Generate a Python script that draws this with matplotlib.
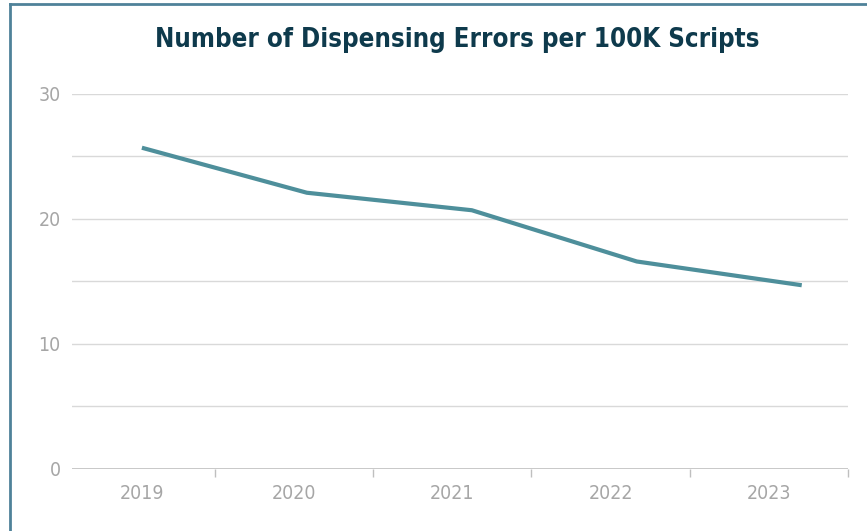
import matplotlib
matplotlib.use("Agg")
import matplotlib.pyplot as plt
from matplotlib.lines import Line2D

years = ["2019", "2020", "2021", "2022", "2023"]
errors = [25.7, 22.1, 20.7, 16.6, 14.7]
y_ticks = [0, 10, 20, 30]
grid_levels = [0, 5, 10, 15, 20, 25, 30]
label_pos = [0.04, 1, 2, 3, 4]

fig = plt.figure(figsize=(8.67, 5.31), dpi=100)
ax = fig.add_axes([0.083, 0.1168, 0.895, 0.7062])

# Category axis
ax.set_xlim(-0.403, 4.5)
ax.set_ylim(0, 30)
for lvl in grid_levels[1:]:
    ax.axhline(lvl, color="#d9d9d9", lw=1.0, zorder=1)
ax.axhline(0, color="#bfbfbf", lw=1.2, zorder=2)
for s in ax.spines.values():
    s.set_visible(False)
ax.set_xticks([i + 0.5 for i in range(len(years))])
ax.set_xticklabels([])
ax.tick_params(axis="x", length=6, color="#bfbfbf", width=1.0)
ax.set_xticks(label_pos, minor=True)
ax.set_xticklabels(years, minor=True)
ax.tick_params(axis="x", which="minor", length=0, pad=11, labelsize=14,
               labelcolor="#a6a6a6")
ax.set_yticks(y_ticks)
ax.set_yticklabels([str(v) for v in y_ticks])
ax.tick_params(axis="y", length=0, pad=8, labelsize=14, labelcolor="#a6a6a6")
for lab in ax.get_xticklabels(minor=True) + ax.get_yticklabels():
    lab.set_fontstretch("condensed")
    lab.set_fontfamily("DejaVu Sans")
    lab.set_fontweight("light")

# Line on its own x scale
ax2 = ax.twiny()
ax2.set_xlim(-0.424, 4.280)
ax2.set_ylim(0, 30)
ax2.axis("off")
ax2.plot(range(len(years)), errors, color="#4e8f9b", lw=3, solid_capstyle="butt",
         zorder=3)

fig.text(0.527, 0.925, "Number of Dispensing Errors per 100K Scripts",
         ha="center", va="center", fontsize=18.5, fontweight="bold",
         fontstretch="condensed", color="#0e3a4c", family="DejaVu Sans")

# Border (top and left)
fig.add_artist(Line2D([0.0115, 1.0], [0.992, 0.992], transform=fig.transFigure,
                      color="#4f8299", lw=2))
fig.add_artist(Line2D([0.0115, 0.0115], [0.0, 0.992], transform=fig.transFigure,
                      color="#4f8299", lw=2))

fig.savefig("out.png", dpi=100)
